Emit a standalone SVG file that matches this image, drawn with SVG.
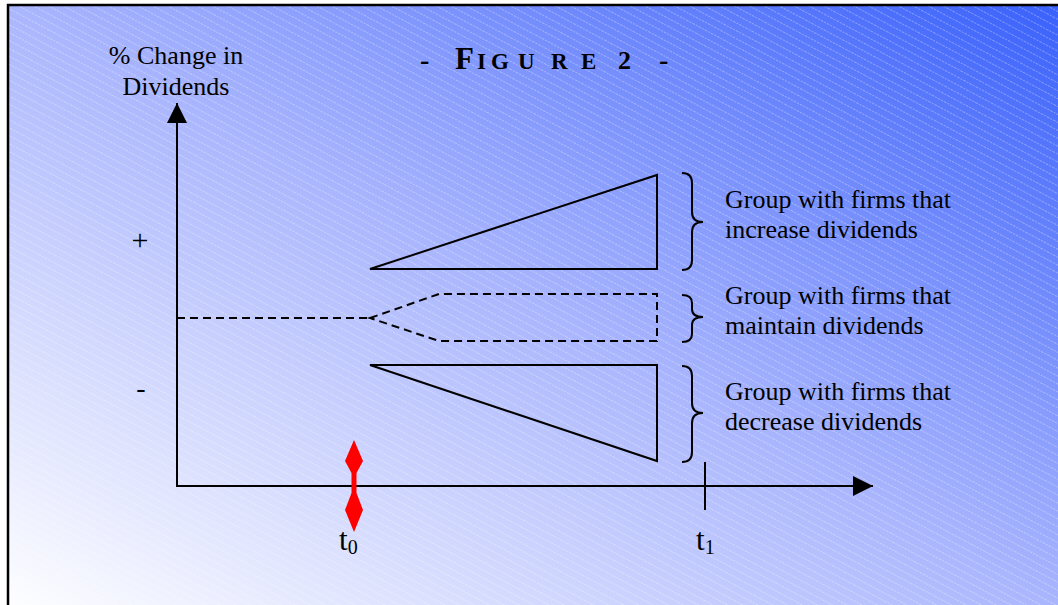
<svg xmlns="http://www.w3.org/2000/svg" width="1058" height="605" viewBox="0 0 1058 605">
<defs>
<linearGradient id="bg" x1="0" y1="1" x2="1" y2="0">
<stop offset="0" stop-color="#ffffff"/>
<stop offset="0.5" stop-color="#aab6fd"/>
<stop offset="1" stop-color="#3860fb"/>
</linearGradient>
<pattern id="hatch" width="7" height="7" patternUnits="userSpaceOnUse" patternTransform="rotate(28)">
<line x1="0" y1="3.5" x2="7" y2="3.5" stroke="#ffffff" stroke-width="1" stroke-opacity="0.3" stroke-dasharray="2 1"/>
</pattern>
<marker id="arr" viewBox="0 0 20 20" refX="20" refY="10" markerWidth="20" markerHeight="20" markerUnits="userSpaceOnUse" orient="auto">
<path d="M0,0 L20,10 L0,20 Z" fill="#000"/>
</marker>
</defs>
<style>
.t{font-family:"Liberation Serif","Times New Roman",serif;font-size:26px;fill:#000}
.big{font-size:31px}
.sub{font-size:20px}
.ln{stroke:#000;stroke-width:2;fill:none}
.dash{stroke:#000;stroke-width:2;fill:none;stroke-dasharray:8 5}
.ttl{font-family:"Liberation Serif","Times New Roman",serif;font-weight:bold;fill:#000}
</style>
<rect x="0" y="0" width="1058" height="605" fill="#fff"/>
<rect x="8" y="5" width="1060" height="610" fill="url(#bg)"/>
<rect x="8" y="5" width="1060" height="610" fill="url(#hatch)"/>
<rect x="8" y="5" width="1060" height="610" fill="none" stroke="#000" stroke-width="2.5"/>

<g id="title">
<text class="ttl" y="69"><tspan x="420" font-size="28">-</tspan><tspan x="455" font-size="31">F</tspan><tspan x="477" font-size="23">I</tspan><tspan x="491" font-size="23">G</tspan><tspan x="518" font-size="23">U</tspan><tspan x="551" font-size="23">R</tspan><tspan x="581" font-size="23">E</tspan><tspan x="618" font-size="26">2</tspan><tspan x="659" font-size="28">-</tspan></text>
</g>

<g id="connectors">
<line class="ln" x1="177" y1="487" x2="177" y2="103" marker-end="url(#arr)"/>
<line class="ln" x1="176" y1="486" x2="873" y2="486" marker-end="url(#arr)"/>
<line class="ln" x1="705" y1="462" x2="705" y2="510"/>
<path class="dash" d="M177,318 L370,318"/>
</g>

<g id="y-label">
<text class="t" x="176" y="64" text-anchor="middle">% Change in</text>
<text class="t" x="176" y="95" text-anchor="middle">Dividends</text>
</g>
<g id="plus"><text class="t" x="140" y="250" style="font-size:30px" text-anchor="middle">+</text></g>
<g id="minus"><text class="t" x="141" y="397" style="font-size:28px" text-anchor="middle">-</text></g>

<g id="t0-marker">
<path d="M354,440 L363,461 L356.5,473 L356.5,493 L363,510 L354,532 L345,510 L351.5,493 L351.5,473 L345,461 Z" fill="#ff0000"/>
</g>
<g id="t0-label"><text class="t big" x="339" y="550">t<tspan class="sub" dy="4">0</tspan></text></g>
<g id="t1-label"><text class="t big" x="696" y="550">t<tspan class="sub" dy="4">1</tspan></text></g>

<g id="increase">
<path class="ln" d="M370,269 L657,175 L657,269 Z"/>
<path class="ln" d="M682,173 Q692,173 692,183 L692,212 Q692,222 703,222 Q692,222 692,232 L692,260 Q692,270 682,270"/>
<text class="t" x="725" y="208">Group with firms that</text>
<text class="t" x="725" y="238">increase dividends</text>
</g>

<g id="maintain">
<path class="dash" d="M370,318 L439,294 L657,294 L657,341 L439,341 Z"/>
<path class="ln" d="M682,295 Q692,295 692,303 L692,309 Q692,317 703,317 Q692,317 692,325 L692,334 Q692,342 682,342"/>
<text class="t" x="725" y="304">Group with firms that</text>
<text class="t" x="725" y="334">maintain dividends</text>
</g>

<g id="decrease">
<path class="ln" d="M370,365 L657,365 L657,461 Z"/>
<path class="ln" d="M682,366 Q692,366 692,376 L692,403 Q692,413 703,413 Q692,413 692,423 L692,452 Q692,462 682,462"/>
<text class="t" x="725" y="400">Group with firms that</text>
<text class="t" x="725" y="430">decrease dividends</text>
</g>
</svg>
